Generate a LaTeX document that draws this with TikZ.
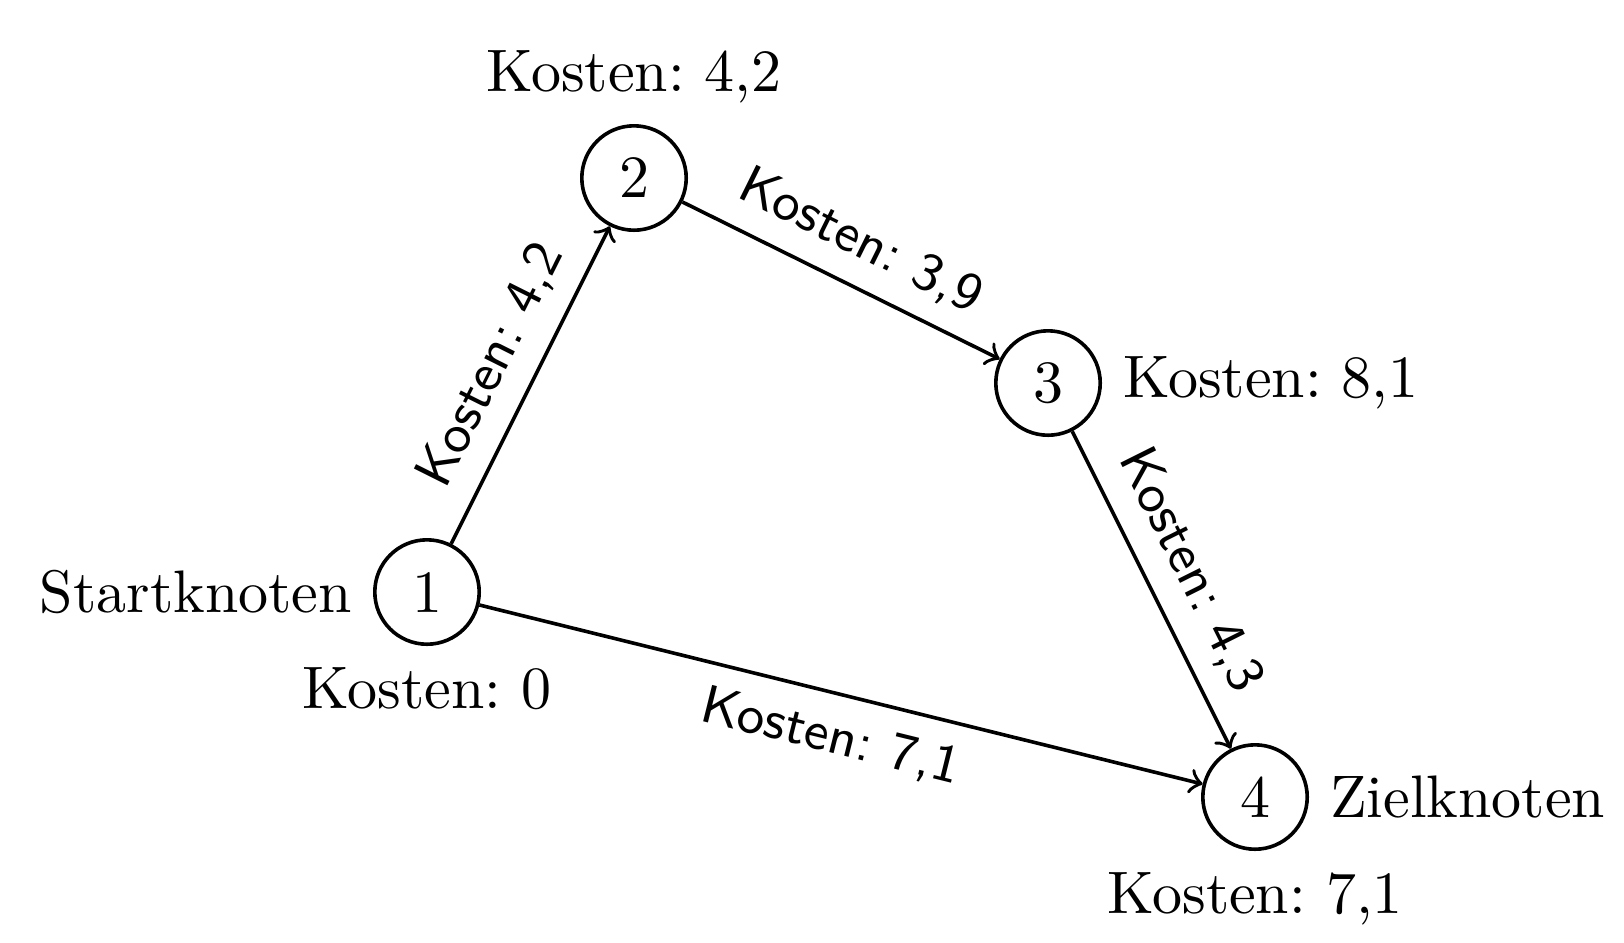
\documentclass[tikz,border=0pt]{standalone}
\usetikzlibrary{arrows}
\frenchspacing
\begin{document}
\begin{tikzpicture}[x=0.166667pt,y=-0.166667pt,
  knoten/.style={circle,draw,semithick,minimum size=17.4pt,inner sep=0pt,label distance=2pt},
  kante/.style={->,semithick},
  kl/.style={font=\sffamily\small,sloped}]
\useasboundingbox (0,0) rectangle (1624,942);
\node[knoten,label={left:Startknoten},label={below:Kosten: 0}] (n1) at (427,592) {1};
\node[knoten,label={above:Kosten: 4,2}] (n2) at (634,178) {2};
\node[knoten,label={right:Kosten: 8,1}] (n3) at (1048,383) {3};
\node[knoten,label={right:Zielknoten},label={below:Kosten: 7,1}] (n4) at (1255,797) {4};
\draw[kante] (n1) -- node[kl,above] {Kosten: 4,2} (n2);
\draw[kante] (n2) -- node[kl,above] {Kosten: 3,9} (n3);
\draw[kante] (n3) -- node[kl,above] {Kosten: 4,3} (n4);
\draw[kante] (n1) -- node[kl,below] {Kosten: 7,1} (n4);
\end{tikzpicture}
\end{document}
